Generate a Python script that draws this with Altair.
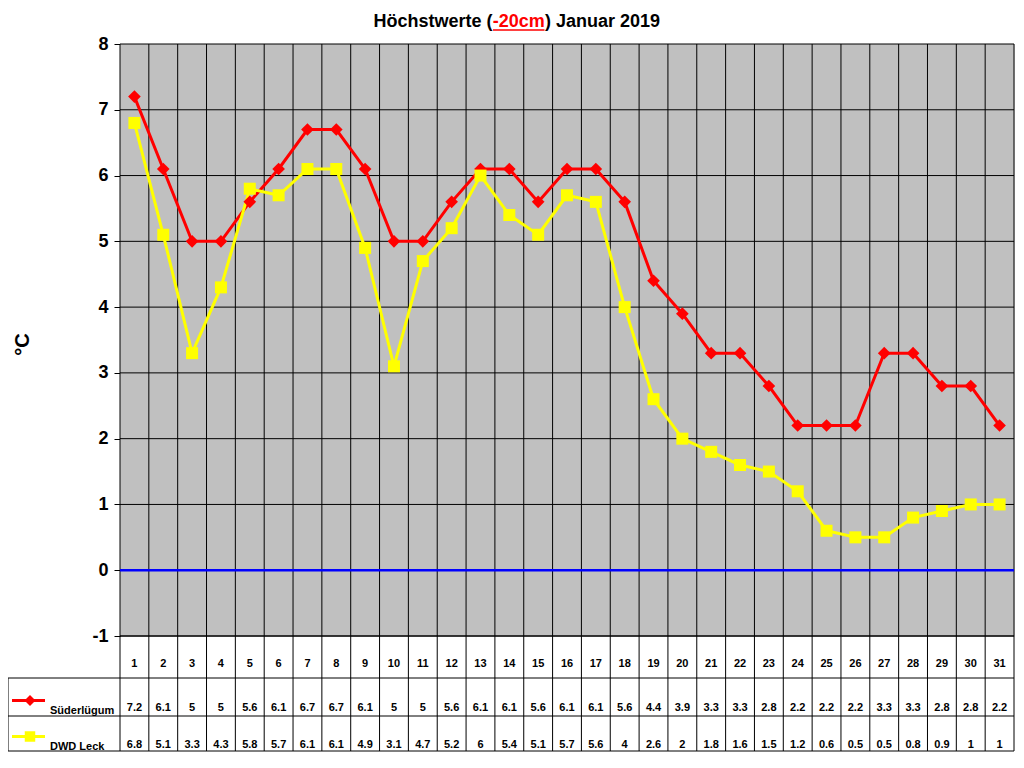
import altair as alt
import pandas as pd

# Höchstwerte in -20cm, Januar 2019
days = list(range(1, 32))
suederluegum = [7.2, 6.1, 5, 5, 5.6, 6.1, 6.7, 6.7, 6.1, 5, 5, 5.6, 6.1, 6.1, 5.6, 6.1,
                6.1, 5.6, 4.4, 3.9, 3.3, 3.3, 2.8, 2.2, 2.2, 2.2, 3.3, 3.3, 2.8, 2.8, 2.2]
dwd_leck = [6.8, 5.1, 3.3, 4.3, 5.8, 5.7, 6.1, 6.1, 4.9, 3.1, 4.7, 5.2, 6, 5.4, 5.1, 5.7,
            5.6, 4, 2.6, 2, 1.8, 1.6, 1.5, 1.2, 0.6, 0.5, 0.5, 0.8, 0.9, 1, 1]
series = ["Süderlügum", "DWD Leck"]
colors = ["#FF0000", "#FFFF00"]
shapes = ["diamond", "square"]
y_ticks = list(range(-1, 9))

W, H = 894, 592
FONT = "Liberation Sans"
ROW1, ROW2, ROW3 = H + 42, H + 80, H + 115   # bottoms of the table rows
LEFT = -112                                   # left border of the legend column

frames = []
for name, vals in zip(series, [suederluegum, dwd_leck]):
    f = pd.DataFrame({"day": days, "wert": vals, "reihe": name})
    f["label"] = f["wert"].map(lambda v: f"{v:g}")
    frames.append(f)
df = pd.concat(frames, ignore_index=True)

day_df = pd.DataFrame({"day": days, "label": [str(d) for d in days]})
bounds_df = pd.DataFrame({"b": [d - 0.5 for d in days] + [days[-1] + 0.5]})
grid_df = pd.DataFrame({"wert": y_ticks})
zero_df = pd.DataFrame({"wert": [0]})
one = pd.DataFrame({"n": [0]})

x = alt.X("day:Q", scale=alt.Scale(domain=[0.5, 31.5], nice=False, zero=False), axis=None)
y = alt.Y("wert:Q", scale=alt.Scale(domain=[-1, 8], nice=False, zero=False),
          axis=alt.Axis(values=y_ticks, title="°C", grid=False, domainColor="black",
                        tickColor="black", tickSize=6, labelFont=FONT, labelFontSize=18,
                        labelFontWeight="bold", labelColor="black", labelPadding=6,
                        labelFlush=False, labelOverlap=False, labelExpr="'' + datum.value",
                        titleFont=FONT, titleFontSize=20,
                        titleFontWeight="bold", titleColor="black", titleX=-98, titleY=300,
                        titleAngle=270, titleAlign="center", titleBaseline="middle"))

layers = []

# grey plot background
layers.append(alt.Chart(one).mark_rect(color="#C0C0C0").encode(
    x=alt.value(0), x2=alt.value(W), y=alt.value(0), y2=alt.value(H)))

# horizontal grid lines
layers.append(alt.Chart(grid_df).mark_rule(color="black", strokeWidth=1).encode(
    y=y, x=alt.value(0), x2=alt.value(W)))

# vertical column lines through plot and table
layers.append(alt.Chart(bounds_df).mark_rule(color="black", strokeWidth=1).encode(
    x=alt.X("b:Q", scale=alt.Scale(domain=[0.5, 31.5], nice=False, zero=False), axis=None),
    y=alt.value(0), y2=alt.value(ROW3)))

# table borders
def hline(x0, x1, yy):
    return alt.Chart(one).mark_rule(color="black", strokeWidth=1).encode(
        x=alt.value(x0), x2=alt.value(x1), y=alt.value(yy))

layers.append(hline(0, W, H))
for yy in [ROW1, ROW2, ROW3]:
    layers.append(hline(LEFT, W, yy))
layers.append(alt.Chart(one).mark_rule(color="black", strokeWidth=1).encode(
    x=alt.value(LEFT), y=alt.value(ROW1), y2=alt.value(ROW3)))

# zero line
layers.append(alt.Chart(zero_df).mark_rule(color="#0000FF", strokeWidth=2.5).encode(
    y=y, x=alt.value(0), x2=alt.value(W)))

# lines and markers
for name, col in zip(series, colors):
    layers.append(alt.Chart(df).transform_filter(alt.datum.reihe == name)
                  .mark_line(color=col, strokeWidth=3).encode(x=x, y=y))
for name, col, shp, sz in zip(series, colors, shapes, [160, 144]):
    layers.append(alt.Chart(df).transform_filter(alt.datum.reihe == name)
                  .mark_point(color=col, fill=col, filled=True, opacity=1, shape=shp, size=sz)
                  .encode(x=x, y=y))

# table text
txt = dict(font=FONT, fontSize=11, fontWeight="bold", color="black", align="center",
           baseline="alphabetic")
layers.append(alt.Chart(day_df).mark_text(**txt).encode(
    x=x, y=alt.value(H + 30.5), text="label:N"))
for name, yy in zip(series, [ROW2 - 5, ROW3 - 3.5]):
    layers.append(alt.Chart(df).transform_filter(alt.datum.reihe == name)
                  .mark_text(**txt).encode(x=x, y=alt.value(yy), text="label:N"))

# legend keys in the table
for name, col, shp, sz, yy in zip(series, colors, shapes, [120, 110], [ROW2 - 15.5, ROW3 - 14.5]):
    layers.append(alt.Chart(one).mark_rule(color=col, strokeWidth=3).encode(
        x=alt.value(-108), x2=alt.value(-75), y=alt.value(yy)))
    layers.append(alt.Chart(one).mark_point(color=col, fill=col, filled=True, opacity=1,
                                            shape=shp, size=sz).encode(
        x=alt.value(-90), y=alt.value(yy)))
    layers.append(alt.Chart(one).mark_text(font=FONT, fontSize=11, fontWeight="bold",
                                           color="black", align="left",
                                           text=name).encode(
        x=alt.value(-70), y=alt.value(yy + 10.5)))

# title with red, underlined part
ttl = dict(font=FONT, fontSize=18, fontWeight="bold", baseline="alphabetic")
layers.append(alt.Chart(one).mark_text(align="right", color="black", text="Höchstwerte (",
                                       **ttl).encode(x=alt.value(372.5), y=alt.value(-17.5)))
layers.append(alt.Chart(one).mark_text(align="center", color="#FF0000", text="-20cm",
                                       **ttl).encode(x=alt.value(398.8), y=alt.value(-17.5)))
layers.append(alt.Chart(one).mark_text(align="left", color="black", text=") Januar 2019",
                                       **ttl).encode(x=alt.value(425), y=alt.value(-17.5)))
layers.append(alt.Chart(one).mark_rule(color="#FF0000", strokeWidth=1.5).encode(
    x=alt.value(373), x2=alt.value(424.5), y=alt.value(-14)))

chart = alt.layer(*layers).properties(
    width=W, height=H,
    autosize=alt.AutoSizeParams(type="none"),
    padding={"left": 112, "top": 36, "right": 1, "bottom": 117},
).configure_view(strokeWidth=0).configure(background="white")

chart.save("out.html", embed_options={"renderer": "svg", "actions": False})
